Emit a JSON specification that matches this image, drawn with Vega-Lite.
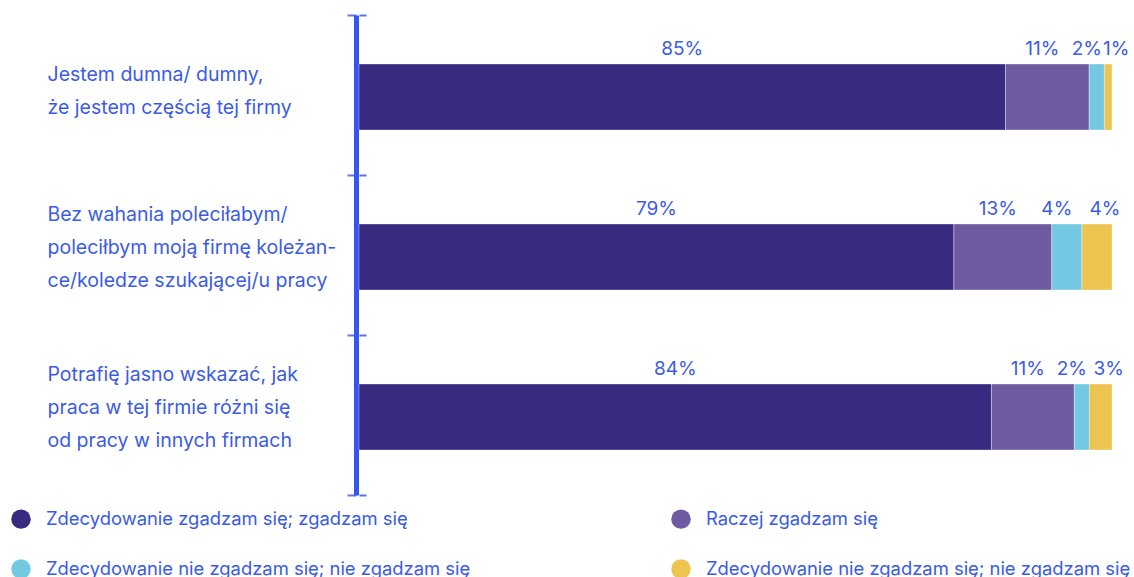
{
  "$schema": "https://vega.github.io/schema/vega-lite/v6.json",
  "width": 753,
  "height": 480,
  "autosize": {"type": "none"},
  "padding": {"left": 359, "top": 15, "right": 22, "bottom": 82},
  "background": "white",
  "config": {"view": {"stroke": null}, "font": "Inter"},
  "data": {
    "values": [
      {"q": "Jestem dumna/ dumny,\nże jestem częścią tej firmy", "k": 1, "v": 0.85},
      {"q": "Jestem dumna/ dumny,\nże jestem częścią tej firmy", "k": 2, "v": 0.11},
      {"q": "Jestem dumna/ dumny,\nże jestem częścią tej firmy", "k": 3, "v": 0.02},
      {"q": "Jestem dumna/ dumny,\nże jestem częścią tej firmy", "k": 4, "v": 0.01},
      {"q": "Bez wahania poleciłabym/\npoleciłbym moją firmę koleżan-\nce/koledze szukającej/u pracy", "k": 1, "v": 0.79},
      {"q": "Bez wahania poleciłabym/\npoleciłbym moją firmę koleżan-\nce/koledze szukającej/u pracy", "k": 2, "v": 0.13},
      {"q": "Bez wahania poleciłabym/\npoleciłbym moją firmę koleżan-\nce/koledze szukającej/u pracy", "k": 3, "v": 0.04},
      {"q": "Bez wahania poleciłabym/\npoleciłbym moją firmę koleżan-\nce/koledze szukającej/u pracy", "k": 4, "v": 0.04},
      {"q": "Potrafię jasno wskazać, jak\npraca w tej firmie różni się\nod pracy w innych firmach", "k": 1, "v": 0.84},
      {"q": "Potrafię jasno wskazać, jak\npraca w tej firmie różni się\nod pracy w innych firmach", "k": 2, "v": 0.11},
      {"q": "Potrafię jasno wskazać, jak\npraca w tej firmie różni się\nod pracy w innych firmach", "k": 3, "v": 0.02},
      {"q": "Potrafię jasno wskazać, jak\npraca w tej firmie różni się\nod pracy w innych firmach", "k": 4, "v": 0.03}
    ]
  },
  "transform": [
    {"stack": "v", "groupby": ["q"], "sort": [{"field": "k", "order": "ascending"}], "offset": "normalize", "as": ["x0", "x1"]}
  ],
  "layer": [
    {
      "mark": {"type": "bar", "height": 66, "yOffset": 2, "stroke": "#ffffff", "strokeWidth": 1, "strokeOpacity": 0.35},
      "encoding": {
        "y": {
          "field": "q", "type": "nominal", "sort": null,
          "scale": {"paddingInner": 0, "paddingOuter": 0},
          "axis": {
            "title": null,
            "domainColor": "#3358f0", "domainWidth": 5, "domainCap": "butt", "offset": 3,
            "ticks": true, "tickBand": "extent", "tickSize": 9, "tickColor": "#5a74e6", "tickWidth": 2,
            "grid": true, "gridColor": "#5a74e6", "gridWidth": 2, "gridDash": [7, 5000],
            "labelAlign": "left", "labelPadding": 300, "labelFont": "Inter", "labelFontSize": 19.5,
            "labelColor": "#3a5be8", "labelLineHeight": 33, "labelBaseline": "alphabetic",
            "labelOffset": {"condition": {"test": "indexof(datum.value + '', 'Jestem') == 0", "value": -15}, "value": -35},
            "labelLimit": 320, "labelExpr": "datum.value ? split(datum.value, '\\n') : ''"
          }
        },
        "x": {"field": "x0", "type": "quantitative", "scale": {"domain": [0, 1], "nice": false, "zero": false}, "axis": null},
        "x2": {"field": "x1"},
        "color": {
          "field": "k", "type": "nominal",
          "scale": {"domain": [1, 2, 3, 4], "range": ["#372a80", "#6e5aa0", "#72c9e1", "#edc44f"]},
          "legend": {
            "orient": "none", "legendX": -348, "legendY": 494, "columns": 2, "direction": "horizontal", "title": null,
            "symbolType": "circle", "symbolSize": 380, "symbolStrokeWidth": 0, "symbolOpacity": 1,
            "labelFont": "Inter", "labelFontSize": 18.4, "labelColor": "#3a5be8", "labelOffset": 15,
            "columnPadding": 200, "rowPadding": 30, "labelLimit": 600, "padding": 0,
            "labelExpr": "['Zdecydowanie zgadzam się; zgadzam się', 'Raczej zgadzam się', 'Zdecydowanie nie zgadzam się; nie zgadzam się', 'Zdecydowanie nie zgadzam się; nie zgadzam się'][datum.value - 1]"
          }
        }
      }
    },
    {
      "transform": [
        {"filter": "datum.k == 1"},
        {"fold": ["x0", "x1"], "as": ["end", "pos"]},
        {"aggregate": [{"op": "mean", "field": "pos", "as": "mid"}], "groupby": ["q", "k", "v"]}
      ],
      "mark": {"type": "text", "dx": 0, "dy": -40, "baseline": "alphabetic", "fontSize": 19, "font": "Inter", "color": "#3a5be8"},
      "encoding": {
        "y": {"field": "q", "type": "nominal", "sort": null},
        "x": {"field": "mid", "type": "quantitative"},
        "text": {"field": "v", "type": "quantitative", "format": ".0%"}
      }
    },
    {
      "transform": [
        {"filter": "datum.k == 2"},
        {"fold": ["x0", "x1"], "as": ["end", "pos"]},
        {"aggregate": [{"op": "mean", "field": "pos", "as": "mid"}], "groupby": ["q", "k", "v"]}
      ],
      "mark": {"type": "text", "dx": -5, "dy": -40, "baseline": "alphabetic", "fontSize": 19, "font": "Inter", "color": "#3a5be8"},
      "encoding": {
        "y": {"field": "q", "type": "nominal", "sort": null},
        "x": {"field": "mid", "type": "quantitative"},
        "text": {"field": "v", "type": "quantitative", "format": ".0%"}
      }
    },
    {
      "transform": [
        {"filter": "datum.k == 3"},
        {"fold": ["x0", "x1"], "as": ["end", "pos"]},
        {"aggregate": [{"op": "mean", "field": "pos", "as": "mid"}], "groupby": ["q", "k", "v"]}
      ],
      "mark": {"type": "text", "dx": -10, "dy": -40, "baseline": "alphabetic", "fontSize": 19, "font": "Inter", "color": "#3a5be8"},
      "encoding": {
        "y": {"field": "q", "type": "nominal", "sort": null},
        "x": {"field": "mid", "type": "quantitative"},
        "text": {"field": "v", "type": "quantitative", "format": ".0%"}
      }
    },
    {
      "transform": [
        {"filter": "datum.k == 4"},
        {"fold": ["x0", "x1"], "as": ["end", "pos"]},
        {"aggregate": [{"op": "mean", "field": "pos", "as": "mid"}], "groupby": ["q", "k", "v"]}
      ],
      "mark": {"type": "text", "dx": 8, "dy": -40, "baseline": "alphabetic", "fontSize": 19, "font": "Inter", "color": "#3a5be8"},
      "encoding": {
        "y": {"field": "q", "type": "nominal", "sort": null},
        "x": {"field": "mid", "type": "quantitative"},
        "text": {"field": "v", "type": "quantitative", "format": ".0%"}
      }
    }
  ]
}
